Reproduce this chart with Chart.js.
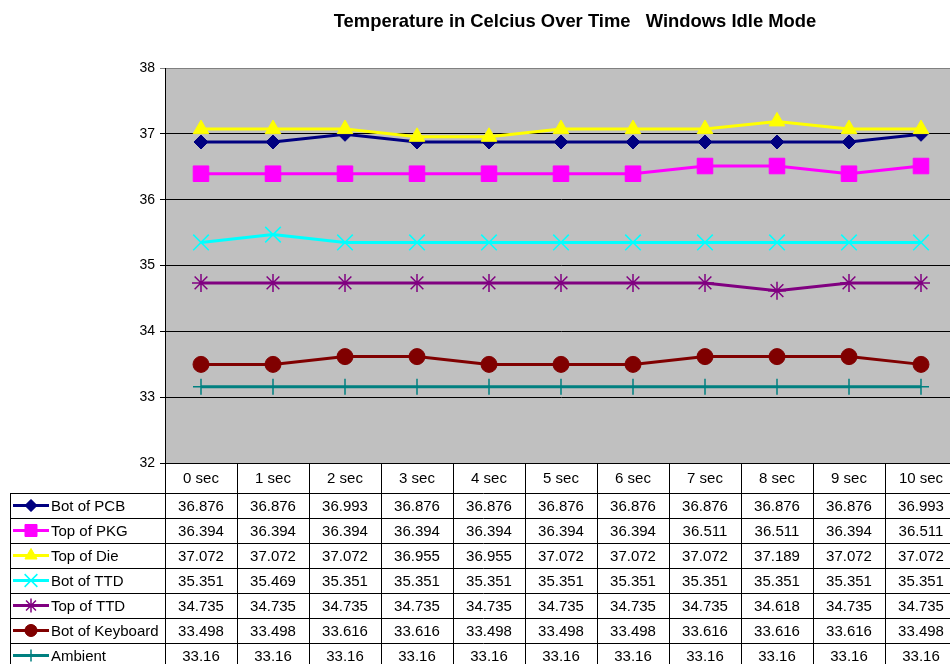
<!DOCTYPE html>
<html><head><meta charset="utf-8">
<script src="https://cdn.jsdelivr.net/npm/chart.js@4/dist/chart.umd.min.js"></script>
<style>html,body{margin:0;padding:0;background:#fff;overflow:hidden;width:950px;height:664px}canvas{display:block}</style>
</head><body><canvas id="c" width="957" height="664"></canvas>
<script>
const chartTitle = 'Temperature in Celcius Over Time   Windows Idle Mode';
const categories = ['0 sec','1 sec','2 sec','3 sec','4 sec','5 sec','6 sec','7 sec','8 sec','9 sec','10 sec'];
const seriesNames = ['Bot of PCB','Top of PKG','Top of Die','Bot of TTD','Top of TTD','Bot of Keyboard','Ambient'];
const botPCB      = [36.876,36.876,36.993,36.876,36.876,36.876,36.876,36.876,36.876,36.876,36.993];
const topPKG      = [36.394,36.394,36.394,36.394,36.394,36.394,36.394,36.511,36.511,36.394,36.511];
const topDie      = [37.072,37.072,37.072,36.955,36.955,37.072,37.072,37.072,37.189,37.072,37.072];
const botTTD      = [35.351,35.469,35.351,35.351,35.351,35.351,35.351,35.351,35.351,35.351,35.351];
const topTTD      = [34.735,34.735,34.735,34.735,34.735,34.735,34.735,34.735,34.618,34.735,34.735];
const botKeyboard = [33.498,33.498,33.616,33.616,33.498,33.498,33.498,33.616,33.616,33.616,33.498];
const ambient     = [33.16,33.16,33.16,33.16,33.16,33.16,33.16,33.16,33.16,33.16,33.16];
const yTicks = [32,33,34,35,36,37,38];

const seriesData = [botPCB, topPKG, topDie, botTTD, topTTD, botKeyboard, ambient];
const styles = [
  {color:'#000080', point:'rectRot', r:7, pbw:1, fill:true, lr:6},
  {color:'#FF00FF', point:'rect', r:11, pbw:1, fill:true, lr:8.5},
  {color:'#FFFF00', point:'triangle', r:9, pbw:1, fill:true, lr:7},
  {color:'#00FFFF', point:'crossRot', r:11, pbw:1.5, fill:false, lr:9},
  {color:'#800080', point:'star', r:9, pbw:1.5, fill:false, lr:7},
  {color:'#800000', point:'circle', r:8, pbw:1, fill:true, lr:6},
  {color:'#008080', point:'cross', r:8, pbw:1.5, fill:false, lr:6}
];

const datasets = seriesNames.map((name,i)=>({
  label: name,
  data: seriesData[i],
  borderColor: styles[i].color,
  backgroundColor: styles[i].color,
  borderWidth: 3,
  pointStyle: styles[i].point,
  pointRadius: styles[i].r,
  pointHoverRadius: styles[i].r,
  pointBorderWidth: styles[i].pbw,
  pointBackgroundColor: styles[i].color,
  pointBorderColor: styles[i].color,
  tension: 0,
  order: seriesNames.length - 1 - i
}));

const TABLE_LEFT = 10, HEADER_BOTTOM = 493, ROW_H = 25;

const framePlugin = {
  id: 'frame',
  beforeDraw(chart){
    const {ctx, chartArea:a} = chart;
    ctx.save();
    ctx.fillStyle = '#C0C0C0';
    ctx.fillRect(a.left, a.top, a.right - a.left, a.bottom - a.top);
    ctx.strokeStyle = '#808080';
    ctx.lineWidth = 1;
    ctx.strokeRect(a.left + 0.5, a.top + 0.5, a.right - a.left, a.bottom - a.top);
    ctx.restore();
  },
  afterDraw(chart){
    const {ctx, chartArea:a} = chart;
    const H = chart.height;
    const n = categories.length;
    const cw = (a.right - a.left) / n;
    ctx.save();
    // title
    ctx.fillStyle = '#000';
    ctx.font = 'bold 18.4px "Liberation Sans", Arial, sans-serif';
    ctx.textAlign = 'center';
    ctx.textBaseline = 'middle';
    ctx.fillText(chartTitle, 575, 22);

    ctx.strokeStyle = '#000';
    ctx.lineWidth = 1;
    ctx.beginPath();
    ctx.moveTo(a.left, Math.round(a.bottom) + 0.5);
    ctx.lineTo(a.right, Math.round(a.bottom) + 0.5);
    for (let k = 0; k <= n; k++) {
      const x = Math.round(a.left + k * cw) + 0.5;
      ctx.moveTo(x, a.bottom);
      ctx.lineTo(x, H);
    }
    ctx.moveTo(TABLE_LEFT + 0.5, HEADER_BOTTOM);
    ctx.lineTo(TABLE_LEFT + 0.5, H);
    for (let r = 0; r <= seriesNames.length; r++) {
      const y = HEADER_BOTTOM + r * ROW_H + 0.5;
      ctx.moveTo(TABLE_LEFT, y);
      ctx.lineTo(a.right, y);
    }
    ctx.stroke();

    ctx.font = '15px "Liberation Sans", Arial, sans-serif';
    ctx.textAlign = 'center';
    categories.forEach((c, k) => {
      const x = chart.scales.x.getPixelForValue(k);
      ctx.fillText(c, x, (a.bottom + HEADER_BOTTOM) / 2 + 1);
    });
    seriesNames.forEach((name, i) => {
      const yc = HEADER_BOTTOM + i * ROW_H + ROW_H / 2 + 1;
      ctx.textAlign = 'center';
      ctx.fillStyle = '#000';
      seriesData[i].forEach((v, k) => {
        const x = chart.scales.x.getPixelForValue(k);
        ctx.fillText(String(v), x, yc);
      });
      const s = styles[i];
      ctx.strokeStyle = s.color;
      ctx.lineWidth = 3;
      ctx.beginPath();
      ctx.moveTo(13, yc - 1);
      ctx.lineTo(49, yc - 1);
      ctx.stroke();
      ctx.fillStyle = s.color;
      ctx.lineWidth = s.pbw;
      Chart.helpers.drawPoint(ctx, {pointStyle: s.point, radius: s.lr, borderWidth: s.pbw, rotation: 0}, 31, yc - 1);
      if (s.fill) ctx.fill();
      ctx.fillStyle = '#000';
      ctx.textAlign = 'left';
      ctx.fillText(name, 51, yc);
      ctx.strokeStyle = '#000';
      ctx.lineWidth = 1;
    });
    ctx.restore();
  }
};

new Chart(document.getElementById('c'), {
  type: 'line',
  data: { labels: categories, datasets },
  options: {
    responsive: false,
    animation: false,
    devicePixelRatio: 1,
    layout: { autoPadding: false, padding: { top: 68, bottom: 201, left: 0, right: 0 } },
    plugins: { legend: { display: false }, title: { display: false }, tooltip: { enabled: false } },
    scales: {
      x: { type: 'category', offset: true, display: false },
      y: {
        min: 32, max: 38,
        afterFit(scale){ scale.width = 165; },
        afterBuildTicks(scale){ scale.ticks = yTicks.map(v => ({value: v})); },
        ticks: { color: '#000', padding: 5, font: { family: '"Liberation Sans", Arial, sans-serif', size: 14 } },
        grid: {
          color: ctx => ctx.tick && ctx.tick.value === 38 ? '#808080' : '#000',
          lineWidth: 1,
          tickLength: 5,
          drawTicks: true
        },
        border: { display: true, color: '#000', width: 1 }
      }
    }
  },
  plugins: [framePlugin]
});
</script>
</body></html>
